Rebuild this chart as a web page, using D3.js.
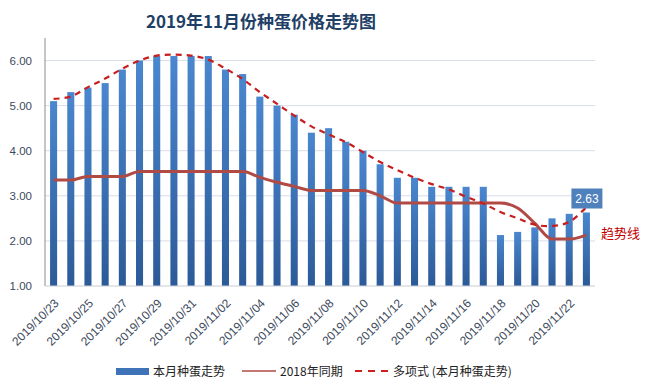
<!DOCTYPE html>
<html><head><meta charset="utf-8">
<script src="https://cdn.jsdelivr.net/npm/d3@7"></script>
<style>body{margin:0;background:#fff;}svg{display:block;font-family:"Noto Sans CJK SC","Liberation Sans",sans-serif;}</style>
</head><body><svg id="c" width="645" height="389"></svg>
<script>
const dates = ["2019/10/23","2019/10/24","2019/10/25","2019/10/26","2019/10/27","2019/10/28","2019/10/29","2019/10/30","2019/10/31","2019/11/01","2019/11/02","2019/11/03","2019/11/04","2019/11/05","2019/11/06","2019/11/07","2019/11/08","2019/11/09","2019/11/10","2019/11/11","2019/11/12","2019/11/13","2019/11/14","2019/11/15","2019/11/16","2019/11/17","2019/11/18","2019/11/19","2019/11/20","2019/11/21","2019/11/22","2019/11/23"];
const thisMonth = [5.1,5.3,5.4,5.5,5.8,6.0,6.1,6.1,6.1,6.1,5.8,5.7,5.2,5.0,4.8,4.4,4.5,4.2,4.0,3.7,3.4,3.4,3.2,3.2,3.2,3.2,2.13,2.2,2.3,2.5,2.6,2.63];
const lastYear = [3.35,3.35,3.43,3.43,3.43,3.54,3.54,3.54,3.54,3.54,3.54,3.54,3.41,3.3,3.21,3.12,3.12,3.12,3.12,3.0,2.84,2.84,2.84,2.84,2.84,2.84,2.84,2.73,2.39,2.04,2.04,2.13];
const trend = [5.15,5.2,5.41,5.6,5.82,6.0,6.11,6.13,6.11,6.02,5.82,5.59,5.3,5.04,4.78,4.54,4.36,4.19,3.97,3.75,3.57,3.4,3.26,3.14,2.98,2.83,2.64,2.5,2.36,2.33,2.42,2.75];
const yTicks = [1,2,3,4,5,6];
const legendItems = ["本月种蛋走势","2018年同期","多项式 (本月种蛋走势)"];
const title = "2019年11月份种蛋价格走势图";

const svg = d3.select("#c");
const L=45,R=595,T=38,B=286;
const x = d3.scaleBand().domain(dates).range([L,R]).paddingInner(0.59).paddingOuter(0.295);
const y = d3.scaleLinear().domain([1,6.5]).range([B,T]);
const cx = d => x(d)+x.bandwidth()/2;

const defs = svg.append("defs");
const g = defs.append("linearGradient").attr("id","bg").attr("x1",0).attr("y1",0).attr("x2",0).attr("y2",1);
g.append("stop").attr("offset","0%").attr("stop-color","#4a87cf");
g.append("stop").attr("offset","100%").attr("stop-color","#2c5a98");

svg.append("text").attr("x",261).attr("y",28).attr("text-anchor","middle")
  .attr("font-size",17).attr("font-weight","bold").attr("fill","#1f3f66").text(title);

// grid
svg.append("g").selectAll("line").data(yTicks.slice(1)).join("line")
  .attr("x1",L).attr("x2",R).attr("y1",d=>y(d)).attr("y2",d=>y(d))
  .attr("stroke","#d9dde6").attr("stroke-width",1);

// y axis
const ya = svg.append("g").attr("transform",`translate(${L},0)`)
  .call(d3.axisLeft(y).tickValues(yTicks).tickFormat(d3.format(".2f")).tickSize(0).tickPadding(13));
ya.select(".domain").attr("stroke","#8c8c8c").attr("d",`M0,${T}V${B}`);
ya.selectAll("text").attr("font-size",11.5).attr("fill","#3d4a5c").attr("font-family","Liberation Sans, sans-serif");

// bars
svg.append("g").selectAll("rect").data(thisMonth).join("rect")
  .attr("x",(d,i)=>x(dates[i])).attr("width",x.bandwidth())
  .attr("y",d=>y(d)).attr("height",d=>B-y(d)).attr("fill","url(#bg)");

// x axis
const xa = svg.append("g").attr("transform",`translate(0,${B})`)
  .call(d3.axisBottom(x).tickValues(dates.filter((d,i)=>i%2===0)).tickSize(0).tickPadding(0));
xa.select(".domain").attr("stroke","#c8ccd4").attr("d",`M${L},0H${R}`);
xa.selectAll("text").attr("font-size",12).attr("fill","#3d4a5c").attr("font-family","Liberation Sans, sans-serif")
  .attr("text-anchor","end").attr("dy",0).attr("transform","translate(6,18) rotate(-45)");

// 2018 line
const line = d3.line().x((d,i)=>cx(dates[i])).y(d=>y(d)).curve(d3.curveMonotoneX);
svg.append("path").datum(lastYear).attr("d",line).attr("fill","none")
  .attr("stroke","#b04a44").attr("stroke-width",3);

// trend line
const tline = d3.line().x((d,i)=>cx(dates[i])).y(d=>y(d)).curve(d3.curveCatmullRom);
svg.append("path").datum(trend).attr("d",tline).attr("fill","none")
  .attr("stroke","#c81e1e").attr("stroke-width",2.2).attr("stroke-dasharray","6,5");

// data label
const last = dates.length-1;
const lx = cx(dates[last]), ly = y(thisMonth[last]);
svg.append("rect").attr("x",lx-15).attr("y",ly-24).attr("width",31).attr("height",20).attr("fill","#4f81bd");
svg.append("text").attr("x",lx+0.5).attr("y",ly-9.5).attr("text-anchor","middle").attr("font-size",12)
  .attr("fill","#fff").attr("font-family","Liberation Sans, sans-serif").text(d3.format(".2f")(thisMonth[last]));
svg.append("text").attr("x",601).attr("y",238).attr("font-size",13).attr("fill","#c00000").text("趋势线");

// legend
const lg = svg.append("g");
lg.append("rect").attr("x",116).attr("y",368).attr("width",33).attr("height",7).attr("fill","#3f73b8");
lg.append("text").attr("x",153).attr("y",376).attr("font-size",12).attr("fill","#222").text(legendItems[0]);
lg.append("line").attr("x1",242).attr("x2",276).attr("y1",371).attr("y2",371).attr("stroke","#b04a44").attr("stroke-width",1.5);
lg.append("text").attr("x",280).attr("y",376).attr("font-size",12).attr("fill","#222").text(legendItems[1]);
lg.append("line").attr("x1",355).attr("x2",390).attr("y1",371).attr("y2",371).attr("stroke","#d01e1e").attr("stroke-width",2).attr("stroke-dasharray","7,6");
lg.append("text").attr("x",393).attr("y",376).attr("font-size",12).attr("fill","#222").text(legendItems[2]);
</script></body></html>
